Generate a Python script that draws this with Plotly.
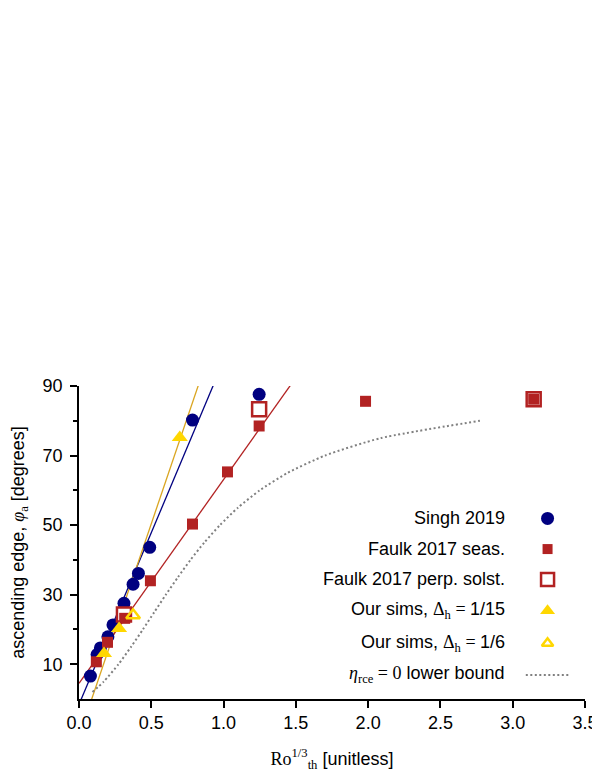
import numpy as np
import plotly.graph_objects as go

# ---------------- data ----------------
singh_x = [0.079, 0.125, 0.148, 0.200, 0.235, 0.311, 0.374, 0.411, 0.489, 0.785, 1.246]
singh_y = [6.6, 12.8, 14.7, 17.9, 21.3, 27.5, 33.0, 36.1, 43.6, 80.2, 87.6]

faulk_seas_x = [0.120, 0.197, 0.316, 0.494, 0.785, 1.027, 1.246, 1.982, 3.145]
faulk_seas_y = [10.7, 16.3, 23.2, 34.0, 50.3, 65.3, 78.5, 85.6, 86.2]

faulk_perp_x = [0.311, 1.246, 3.145]
faulk_perp_y = [24.3, 83.3, 86.2]

sims15_x = [0.173, 0.277, 0.697]
sims15_y = [13.1, 20.3, 75.2]

sims6_x = [0.374]
sims6_y = [24.1]

# linear fits: slope, intercept
singh_fit = [98.8, -1.58]
sims15_fit = [122.3, -10.76]
faulk_fit = [58.6, 4.5]

# eta_rce = 0 lower bound curve
bound_x = [0.093, 0.171, 0.273, 0.360, 0.442, 0.521, 0.601, 0.684, 0.771, 0.867,
           0.975, 1.099, 1.250, 1.442, 1.701, 2.085, 2.773]
bound_y = [2, 5, 10, 15, 20, 25, 30, 35, 40, 45, 50, 55, 60, 65, 70, 75, 80]

x_ticks = [0.0, 0.5, 1.0, 1.5, 2.0, 2.5, 3.0, 3.5]
y_ticks = [10, 30, 50, 70, 90]
y_minor = [20, 40, 60, 80]

legend_labels = [
    "Singh 2019",
    "Faulk 2017 seas.",
    "Faulk 2017 perp. solst.",
    'Our sims, <span style="font-family:Liberation Serif">Δ<sub>h</sub> = </span>1/15',
    'Our sims, <span style="font-family:Liberation Serif">Δ<sub>h</sub> = </span>1/6',
    '<span style="font-family:Liberation Serif"><i>η</i><sub>rce</sub> = 0</span> lower bound',
]

# ---------------- styles ----------------
NAVY = "#000080"
RED = "#B22222"
GOLD = "#FFD700"
ORANGE = "#DAA520"
GRAY = "#808080"
FONT = "Liberation Sans"

fig = go.Figure()

xl = np.linspace(0, 3.5, 200)
for (m, b), col in [(singh_fit, NAVY), (sims15_fit, ORANGE), (faulk_fit, RED)]:
    fig.add_trace(go.Scatter(x=xl, y=m * xl + b, mode="lines",
                             line=dict(color=col, width=1.3), showlegend=False,
                             hoverinfo="skip"))

fig.add_trace(go.Scatter(x=bound_x, y=bound_y, mode="lines",
                         line=dict(color=GRAY, width=2, dash="2px,2.5px", shape="spline", smoothing=0.6),
                         showlegend=False))

fig.add_trace(go.Scatter(x=singh_x, y=singh_y, mode="markers",
                         marker=dict(symbol="circle", size=13, color=NAVY, line=dict(width=0)),
                         showlegend=False))
fig.add_trace(go.Scatter(x=faulk_perp_x, y=faulk_perp_y, mode="markers",
                         marker=dict(symbol="square", size=14, color="white", line=dict(color=RED, width=2.5)),
                         showlegend=False))
fig.add_trace(go.Scatter(x=faulk_seas_x, y=faulk_seas_y, mode="markers",
                         marker=dict(symbol="square", size=11, color=RED, line=dict(width=0)),
                         showlegend=False))
fig.add_trace(go.Scatter(x=sims15_x, y=sims15_y, mode="markers",
                         marker=dict(symbol="triangle-up", size=14, color=GOLD, line=dict(width=0)),
                         showlegend=False))
fig.add_trace(go.Scatter(x=sims6_x, y=sims6_y, mode="markers",
                         marker=dict(symbol="triangle-up-open", size=12, color=GOLD, line=dict(color=GOLD, width=2.5)),
                         showlegend=False))

# ---------------- custom legend (text left of key) ----------------
leg_y = [0.577, 0.479, 0.382, 0.282, 0.178, 0.077]
leg_text_x = 0.845
leg_key_x = 0.926
key_styles = [
    dict(symbol="circle", size=13, color=NAVY, line=dict(width=0)),
    dict(symbol="square", size=10, color=RED, line=dict(width=0)),
    dict(symbol="square", size=13, color="white", line=dict(color=RED, width=2.5)),
    dict(symbol="triangle-up", size=13, color=GOLD, line=dict(width=0)),
    dict(symbol="triangle-up-open", size=10, color=GOLD, line=dict(color=GOLD, width=2.5)),
]
for yy, st in zip(leg_y[:5], key_styles):
    fig.add_trace(go.Scatter(x=[leg_key_x], y=[yy], xaxis="x2", yaxis="y2", mode="markers",
                             marker=st, showlegend=False, cliponaxis=False))
fig.add_trace(go.Scatter(x=[0.883, 0.967], y=[leg_y[5], leg_y[5]], xaxis="x2", yaxis="y2",
                         mode="lines", line=dict(color=GRAY, width=2, dash="2px,2.5px"),
                         showlegend=False, cliponaxis=False))

annotations = []
for yy, txt in zip(leg_y, legend_labels):
    annotations.append(dict(x=leg_text_x, y=yy, xref="paper", yref="paper", text=txt,
                            showarrow=False, xanchor="right", yanchor="middle",
                            font=dict(family=FONT, size=18, color="black")))

# page body has an 8px margin: figure is 592x768 so the plot lands where the reference has it
fig.update_layout(
    width=592, height=768,
    margin=dict(l=71, r=15, t=378, b=77),
    paper_bgcolor="white", plot_bgcolor="white",
    font=dict(family=FONT, size=18, color="black"),
    showlegend=False,
    annotations=annotations,
    xaxis=dict(range=[0, 3.5], tickvals=x_ticks, ticktext=[f"{v:.1f}" for v in x_ticks],
               automargin=False,
               showgrid=False, zeroline=False, showline=True, linecolor="black", linewidth=1.5,
               ticks="outside", ticklen=7, tickwidth=1.5, tickcolor="black",
               tickfont=dict(family=FONT, size=18),
               title=dict(text='<span style="font-family:Liberation Serif">Ro<sup>1/3</sup><sub>th</sub></span> [unitless]',
                          font=dict(family=FONT, size=18), standoff=20)),
    yaxis=dict(range=[0, 90], tickvals=y_ticks, automargin=False, ticklabelstandoff=4,
               showgrid=False, zeroline=False, showline=True, linecolor="black", linewidth=1.5,
               ticks="outside", ticklen=7, tickwidth=1.5, tickcolor="black",
               tickfont=dict(family=FONT, size=18),
               minor=dict(tickvals=y_minor, ticks="outside", ticklen=4, tickwidth=1.5, tickcolor="black", showgrid=False),
               title=dict(text='ascending edge, <span style="font-family:Liberation Serif"><i>φ</i><sub>a</sub></span> [degrees]',
                          font=dict(family=FONT, size=18), standoff=16)),
    xaxis2=dict(range=[0, 1], overlaying="x", visible=False, fixedrange=True),
    yaxis2=dict(range=[0, 1], overlaying="y", visible=False, fixedrange=True),
)

fig.write_html("out.html")
